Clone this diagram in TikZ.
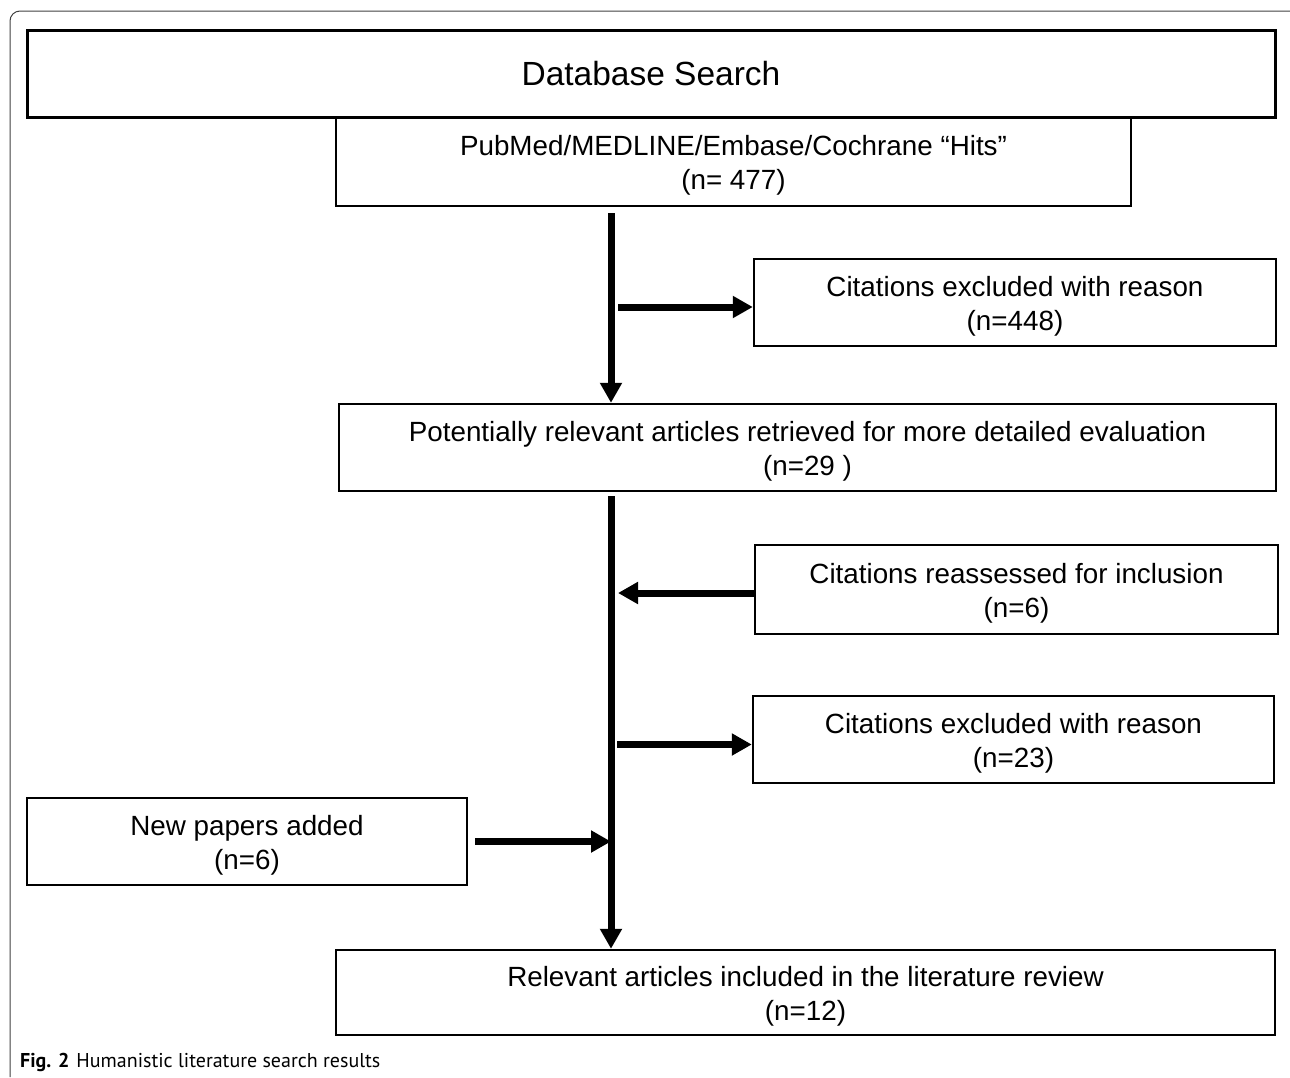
\documentclass[tikz,border=0pt]{standalone}
\usepackage{fontspec}
\setmainfont{Liberation Sans}
\newfontfamily\capfont{PT Sans}
\usetikzlibrary{arrows.meta}
\tikzset{
  box/.style={draw, line width=2.4pt, inner sep=0pt},
  txt/.style={label={[align=center, inner sep=0pt, yshift=-4pt,
    font=\fontsize{27.8}{34}\selectfont]center:#1}},
  arr/.style={line width=7pt, -{Triangle[length=20pt,width=21pt]}},
}
\begin{document}
\begin{tikzpicture}[x=1pt,y=-1pt]
\useasboundingbox (0,0) rectangle (1290,1077);
% outer frame
\draw[line width=1pt, black!75, rounded corners=10pt] (10,1077) -- (10,11) -- (1292,11);
% boxes
\node[box, line width=3pt, minimum width=1248pt, minimum height=87pt, font=\fontsize{33.5}{38}\selectfont] (db) at (651,73.5) {Database Search};
\node[box, minimum width=795pt, minimum height=89pt, txt={PubMed/MEDLINE/Embase/Cochrane “Hits”\\(n= 477)}] (pub) at (733.5,161.5) {};
\node[box, minimum width=522pt, minimum height=87pt, txt={Citations excluded with reason\\(n=448)}] (exc1) at (1015,302.5) {};
\node[box, minimum width=937pt, minimum height=87pt, txt={Potentially relevant articles retrieved for more detailed evaluation\\(n=29 )}] (pot) at (807.5,447.5) {};
\node[box, minimum width=523pt, minimum height=89pt, txt={Citations reassessed for inclusion\\(n=6)}] (rea) at (1016.5,589.5) {};
\node[box, minimum width=521pt, minimum height=87pt, txt={Citations excluded with reason\\(n=23)}] (exc2) at (1013.5,739.5) {};
\node[box, minimum width=440pt, minimum height=87pt, txt={New papers added\\(n=6)}] (new) at (247,841.5) {};
\node[box, minimum width=939pt, minimum height=85pt, txt={Relevant articles included in the literature review\\(n=12)}] (rel) at (805.5,992.5) {};
% spine
\coordinate (sp) at (611,0);
\draw[arr] ([yshift=-6pt]pub.south -| sp) -- (pot.north -| sp);
\draw[arr] ([yshift=-4pt]pot.south -| sp) -- (rel.north -| sp);
% side arrows
\draw[arr] ([xshift=7pt,yshift=-4.5pt]exc1.west -| sp) -- ([yshift=-4.5pt]exc1.west);
\draw[arr] ([yshift=-3.5pt]rea.west) -- ([xshift=7pt,yshift=-3.5pt]rea.west -| sp);
\draw[arr] ([xshift=6pt,yshift=-5pt]exc2.west -| sp) -- ([yshift=-5pt]exc2.west);
\draw[arr] ([xshift=7pt]new.east) -- (new.east -| sp);
% caption
\node[anchor=base west, inner sep=0pt, font=\capfont\fontsize{20}{23}\selectfont] (cap) at (20,1067) {\textbf{Fig. 2}\hspace{7pt}Humanistic literature search results};
\end{tikzpicture}
\end{document}
